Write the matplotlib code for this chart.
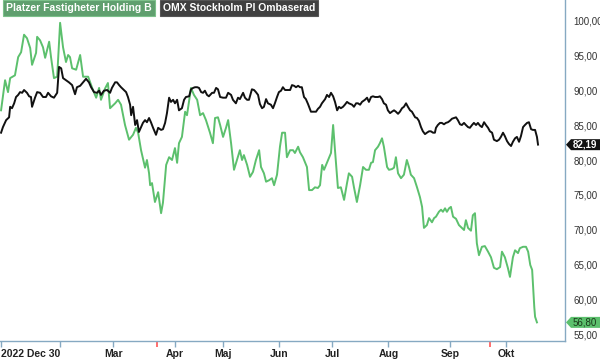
import matplotlib
matplotlib.use("Agg")
import matplotlib.pyplot as plt
from matplotlib.patches import Polygon

plt.rcParams['font.family'] = ['Liberation Sans', 'DejaVu Sans']

series_names = ["Platzer Fastigheter Holding B", "OMX Stockholm PI Ombaserad"]

# trading-day index (0 = 2022-12-30) and values
platzer_x = [0.0, 1.5, 2.6, 3.4, 5.2, 6.4, 7.5, 8.6, 9.7, 10.9, 11.6, 13.1, 13.5, 14.6, 15.7, 16.5,
             18.0, 18.7, 19.8, 21.0, 22.1, 23.2, 24.3, 25.1, 25.8, 26.6, 28.1, 29.6, 30.7, 32.6,
             34.1, 35.6, 36.7, 37.4, 38.9, 40.0, 40.8, 42.7, 43.8, 44.9, 46.4, 47.9, 49.4, 50.5,
             51.3, 52.4, 53.9, 54.6, 55.4, 55.8, 56.5, 57.6, 58.8, 59.9, 60.6, 61.8, 62.9, 64.0,
             65.1, 65.9, 66.6, 67.7, 68.9, 69.6, 71.1, 72.2, 73.4, 74.5, 75.6, 76.7, 78.2, 79.3,
             80.1, 81.2, 82.0, 83.1, 84.2, 85.0, 86.1, 87.2, 88.3, 89.4, 90.2, 90.9, 92.1, 93.2,
             94.3, 95.4, 96.6, 97.3, 98.4, 99.2, 100.3, 101.4, 102.2, 103.3, 104.4, 105.2, 106.3,
             107.0, 108.2, 109.3, 110.0, 111.2, 111.9, 113.0, 114.5, 115.3, 116.4, 117.5, 118.6,
             119.4, 120.2, 120.9, 122.0, 123.5, 124.3, 125.0, 126.1, 127.2, 128.4, 129.5, 130.2,
             131.4, 132.1, 133.2, 134.4, 135.5, 136.6, 137.7, 138.5, 139.2, 140.0, 141.1, 141.8,
             142.6, 143.3, 144.5, 145.2, 146.3, 147.1, 147.8, 148.6, 149.7, 150.8, 151.9, 152.7,
             153.4, 154.6, 155.7, 156.8, 157.6, 158.3, 159.4, 160.2, 161.3, 162.1, 162.8, 163.9,
             164.7, 165.4, 166.2, 166.9, 167.7, 168.4, 169.2, 170.3, 171.4, 172.5, 173.3, 174.0,
             174.8, 175.9, 176.6, 177.4, 178.1, 178.9, 180.0, 181.1, 182.3, 183.4, 184.5, 185.6,
             186.8, 187.5, 188.6, 189.7, 190.5, 191.6, 192.4, 193.5, 194.2, 195.4, 196.5, 197.3,
             198.1, 198.8, 199.6, 199.9, 200.6]
platzer_y = [87.1, 91.4, 89.7, 91.7, 92.1, 94.7, 95.4, 97.9, 97.4, 96.0, 93.6, 95.3, 97.6, 97.1, 96.1, 94.6,
             96.9, 94.7, 91.7, 91.9, 99.6, 96.1, 94.0, 95.0, 94.7, 93.1, 92.9, 95.0, 91.9, 91.9,
             90.3, 88.9, 90.3, 88.6, 90.2, 91.0, 87.4, 88.1, 88.6, 87.9, 85.0, 82.9, 83.6, 84.6,
             83.9, 81.4, 78.9, 80.0, 78.1, 76.4, 76.7, 74.0, 75.4, 72.4, 73.9, 79.3, 80.4, 80.0,
             81.7, 79.6, 82.4, 83.3, 86.9, 86.4, 90.3, 89.3, 88.6, 86.4, 86.7, 85.7, 83.9, 82.4,
             86.0, 86.1, 85.0, 83.3, 84.6, 85.7, 82.4, 78.6, 80.0, 81.4, 80.0, 80.7, 79.3, 77.6,
             78.3, 80.0, 81.4, 79.0, 78.1, 76.9, 77.1, 77.4, 76.4, 77.9, 81.9, 83.9, 83.9,
             80.4, 81.4, 81.4, 81.0, 81.9, 81.1, 80.4, 79.0, 75.7, 75.7, 76.1, 76.0,
             76.4, 79.3, 78.6, 79.6, 81.0, 85.0, 81.4, 76.0, 76.1, 74.3, 76.7, 78.1,
             77.6, 76.1, 74.0, 76.4, 79.0, 78.6, 78.6, 79.6, 79.7, 81.4, 81.9, 82.4,
             83.1, 81.9, 79.0, 78.6, 78.7, 78.9, 80.4, 78.1, 77.4, 77.9, 80.0, 79.0,
             77.9, 77.4, 76.1, 74.7, 73.3, 70.3, 70.7, 71.7, 71.1, 71.7, 71.9, 72.6,
             72.9, 72.6, 73.1, 72.6, 73.1, 73.3, 71.9, 71.6, 70.7, 70.3, 70.0, 71.4,
             70.3, 69.9, 72.1, 72.4, 68.1, 66.4, 67.6, 67.7, 66.9, 66.1, 64.6, 64.4,
             64.7, 66.9, 66.1, 64.6, 63.3, 66.1, 67.1, 66.7, 67.4, 67.6, 67.6, 66.9,
             65.0, 64.3, 59.0, 57.6, 56.8]

omx_x = [0.0, 0.7, 1.9, 3.0, 3.4, 4.1, 4.9, 5.6, 6.4, 7.1, 7.9, 8.6, 9.7, 10.5, 11.2, 11.6, 12.7,
         13.5, 14.6, 15.7, 16.8, 17.6, 18.7, 19.8, 21.0, 21.7, 22.5, 23.2, 24.3, 25.4, 26.6,
         27.7, 28.4, 29.6, 30.7, 31.8, 32.9, 33.7, 34.8, 35.9, 36.7, 37.4, 38.5, 39.7, 40.8,
         41.5, 42.7, 43.4, 44.2, 44.9, 46.0, 46.8, 47.5, 48.3, 48.7, 49.4, 50.2, 50.9, 51.6,
         52.4, 53.1, 53.9, 54.6, 55.4, 56.1, 56.9, 58.0, 58.8, 59.9, 60.6, 61.4, 62.1, 62.9,
         63.6, 64.4, 65.1, 65.9, 66.6, 67.7, 68.5, 69.2, 70.4, 71.1, 71.9, 72.6, 73.4, 74.1,
         74.9, 75.6, 76.3, 77.1, 77.8, 79.0, 79.7, 80.5, 81.2, 82.0, 83.1, 84.2, 85.0, 86.1,
         86.8, 87.9, 88.7, 89.4, 90.6, 91.3, 92.1, 92.8, 93.9, 94.7, 95.4, 96.2, 96.9, 97.7,
         98.4, 99.2, 99.9, 101.0, 101.8, 102.5, 103.3, 104.0, 104.8, 105.5, 106.3, 107.4,
         108.2, 108.9, 109.7, 110.4, 111.2, 111.9, 112.6, 113.4, 114.1, 114.9, 116.0, 116.8,
         117.9, 118.6, 119.4, 120.1, 121.3, 122.0, 122.8, 123.5, 124.3, 125.0, 125.8, 126.5,
         127.2, 128.0, 128.7, 129.5, 130.2, 131.4, 132.1, 132.9, 133.6, 134.4, 135.1, 136.2,
         137.0, 137.7, 138.5, 139.2, 140.0, 141.1, 141.8, 142.6, 143.3, 144.1, 144.8, 145.6,
         146.3, 147.1, 147.8, 148.6, 149.3, 150.1, 150.8, 151.6, 152.3, 153.1, 153.8, 155.0,
         155.7, 156.4, 157.2, 157.9, 158.7, 159.4, 160.2, 160.9, 161.7, 162.4, 162.8, 163.5,
         164.3, 165.0, 165.8, 166.5, 167.3, 168.0, 168.8, 169.5, 170.3, 171.0, 171.8, 172.5,
         173.3, 174.0, 174.8, 175.5, 176.3, 177.0, 177.8, 178.5, 179.3, 180.0, 180.8, 181.5,
         182.3, 183.0, 183.8, 184.5, 185.6, 186.4, 187.1, 187.9, 188.6, 189.4, 190.1, 190.9,
         191.6, 192.4, 193.1, 193.9, 194.6, 195.4, 196.1, 196.9, 197.6, 198.4, 199.1, 199.9,
         200.6, 201.0]
omx_y = [83.9, 84.7, 85.7, 86.1, 87.6, 87.4, 88.1, 89.0, 89.3, 89.7, 89.6, 90.0, 89.6, 89.1, 89.0, 87.6, 88.9,
         89.7, 89.6, 89.0, 89.0, 89.6, 89.1, 88.9, 89.6, 93.3, 93.1, 91.7, 91.4, 91.1, 90.7,
         89.4, 90.4, 90.6, 91.1, 91.6, 91.1, 90.4, 89.7, 89.6, 89.9, 89.3, 89.9, 90.0, 89.6,
         90.3, 91.1, 91.1, 90.7, 90.4, 90.0, 89.7, 89.0, 87.9, 86.4, 87.6, 85.0, 85.7, 84.0,
         84.7, 85.3, 85.7, 85.4, 86.0, 85.4, 84.6, 83.6, 84.6, 84.3, 84.4, 85.3, 86.7, 88.9,
         88.3, 88.6, 88.1, 88.6, 87.1, 87.4, 88.6, 89.0, 89.1, 90.1, 90.3, 90.4, 90.4, 90.3,
         89.7, 89.6, 89.9, 89.3, 89.1, 89.6, 89.6, 90.3, 90.1, 89.0, 88.9, 88.9, 89.6, 89.3,
         88.6, 88.1, 88.9, 88.7, 89.6, 88.9, 88.6, 88.6, 90.1, 90.0, 89.7, 89.3, 88.0, 87.4,
         87.6, 88.7, 88.1, 87.9, 87.4, 88.1, 89.0, 89.7, 89.9, 90.4, 90.0, 90.0,
         90.0, 90.7, 90.6, 90.4, 90.6, 90.4, 90.4, 89.0, 88.7, 88.0, 86.9, 86.9,
         86.9, 87.3, 87.6, 88.1, 88.7, 89.3, 89.0, 89.6, 89.1, 88.3, 87.1, 87.6,
         87.4, 87.6, 87.9, 88.3, 88.1, 87.9, 87.6, 88.1, 88.1, 87.9, 88.3, 88.6,
         88.9, 88.3, 89.0, 89.1, 89.0, 89.0, 89.1, 88.7, 88.1, 87.9, 87.1, 86.7,
         86.9, 87.1, 86.9, 86.6, 86.9, 87.4, 87.6, 88.1, 87.6, 87.1, 86.9, 86.1,
         86.0, 85.6, 84.7, 84.1, 83.7, 83.9, 84.1, 84.1, 83.9, 83.9, 84.6, 85.0,
         85.3, 85.3, 85.1, 85.3, 85.4, 85.6, 85.9, 86.0, 86.1, 85.7, 85.1, 85.0,
         85.3, 85.0, 84.7, 84.6, 85.0, 85.3, 85.0, 85.3, 84.9, 84.7, 85.4, 85.0,
         84.6, 84.1, 83.9, 82.9, 82.7, 82.9, 83.3, 83.9, 83.4, 82.7, 82.3, 82.0,
         82.6, 83.1, 83.3, 82.6, 83.4, 84.7, 85.0, 85.3, 85.4, 84.4, 84.3, 84.3,
         83.3, 82.2]

last_values = [56.80, 82.19]

tick_pos = [0, 22, 42, 65, 83, 104, 124, 145, 168, 189]
tick_labels = ["2022 Dec 30", "", "Mar", "Apr", "Maj", "Jun", "Jul", "Aug", "Sep", "Okt"]
red_marks = [58.4, 183.0]
y_ticks = [55, 60, 65, 70, 75, 80, 85, 90, 95, 100]

green = '#5cc06d'
black = '#111111'
axis_col = '#86a9c2'

W, H = 600, 359
fig = plt.figure(figsize=(W / 100, H / 100), dpi=100)
ax = fig.add_axes([0, 18 / H, 565 / W, 1 - 18 / H])

ax.plot(platzer_x, platzer_y, color=green, lw=1.4, solid_joinstyle='round')
ax.plot(omx_x, omx_y, color=black, lw=1.4, solid_joinstyle='round')

ax.set_xlim(-0.4, 211.1)
ax.set_ylim(54.14, 102.86)

for s in ['top', 'left']:
    ax.spines[s].set_visible(False)
for s in ['right', 'bottom']:
    ax.spines[s].set_color(axis_col)
    ax.spines[s].set_linewidth(1.0)

ax.yaxis.tick_right()
ax.set_yticks(y_ticks)
ax.set_yticklabels([f"{v:.2f}".replace('.', ',') for v in y_ticks])
ax.tick_params(axis='y', length=0, pad=6, labelsize=7, labelcolor='#333333')

ax.set_xticks(tick_pos)
ax.set_xticklabels(tick_labels, fontweight='bold')
ax.tick_params(axis='x', length=4, width=1, color=axis_col, labelsize=7.5,
               labelcolor='#222222', pad=2)
ax.get_xticklabels()[0].set_horizontalalignment('left')
ax.set_xticks(red_marks, minor=True)
ax.tick_params(axis='x', which='minor', length=4, width=1.2, color='#ff5555')

# value tags on the right
inv = fig.transFigure.inverted()
tag_colors = [(green, '#1a3a1a'), ('#111111', 'white')]
for v, (fc, tc) in zip(last_values, tag_colors):
    yd = ax.transData.transform((0, v))[1]
    x0, x1, xt = 566, 600, 571
    hh = 5.5
    pts = [(x0, yd), (xt, yd + hh), (x1, yd + hh), (x1, yd - hh), (xt, yd - hh)]
    pts_f = [tuple(inv.transform(p)) for p in pts]
    fig.add_artist(Polygon(pts_f, closed=True, fc=fc, ec='none', transform=fig.transFigure))
    cx, cy = inv.transform((585, yd))
    fig.text(cx, cy, f"{v:.2f}".replace('.', ','), ha='center', va='center',
             fontsize=7, color=tc, fontweight='bold' if tc == 'white' else 'normal')

# legend boxes at top-left
fig.text(6 / W, 1 - 8 / H, series_names[0], color='white', fontsize=7.5, fontweight='bold',
         ha='left', va='center',
         bbox=dict(boxstyle='square,pad=0.28', fc='#5f9f6e', ec='#7cc08a', lw=0.8))
fig.text(163 / W, 1 - 8 / H, series_names[1], color='white', fontsize=7.5, fontweight='bold',
         ha='left', va='center',
         bbox=dict(boxstyle='square,pad=0.28', fc='#404040', ec='#555555', lw=0.8))

fig.savefig('out.png', dpi=100)
